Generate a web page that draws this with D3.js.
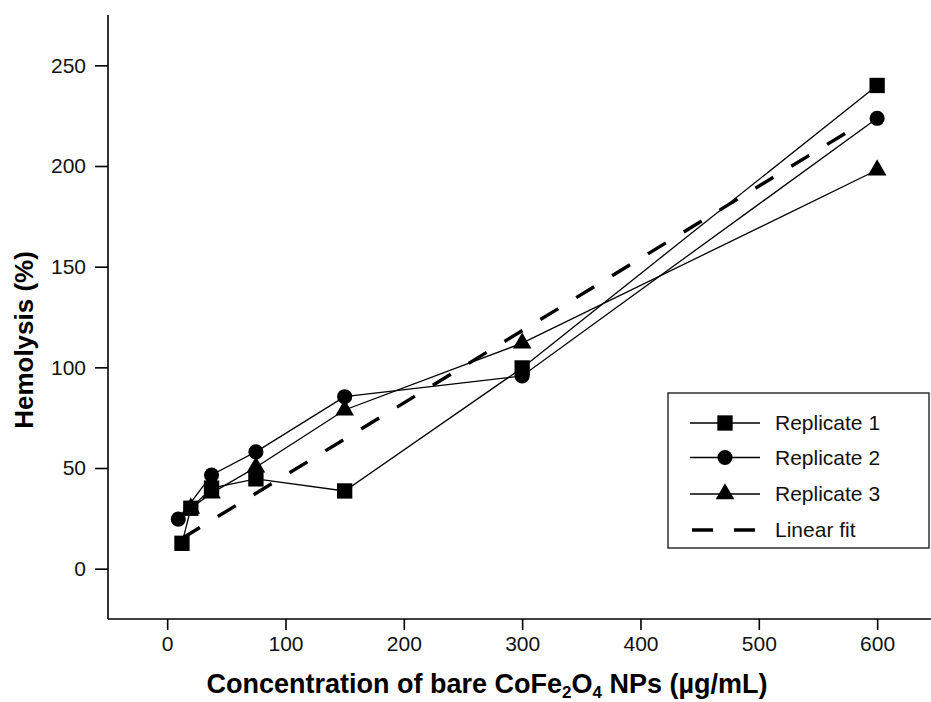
<!DOCTYPE html>
<html><head><meta charset="utf-8">
<script src="https://cdn.jsdelivr.net/npm/d3@7"></script>
<style>body{margin:0;background:#fff} svg{display:block}</style>
</head><body>
<svg id="chart" width="931" height="702"></svg>
<script>
// ---- data ----
const rep1X = [12.5, 20, 37.5, 75, 150, 300, 600];
const rep1Y = [12.6, 30, 40, 44.6, 38.6, 99.7, 240];
const rep2X = [9.4, 37.5, 75, 150, 300, 600];
const rep2Y = [24.6, 46.5, 58, 85.4, 95.7, 223.7];
const rep3X = [20, 37.5, 75, 150, 300, 600];
const rep3Y = [30, 37.5, 50.4, 78.8, 112, 198];
const fitX = [12.5, 578];
const fitY = [15, 218];
const xTicks = [0, 100, 200, 300, 400, 500, 600];
const xMinor = [-50, 50, 150, 250, 350, 450, 550];
const yTicks = [0, 50, 100, 150, 200, 250];
const yMinor = [-25, 25, 75, 125, 175, 225, 275];
const legendLabels = ["Replicate 1", "Replicate 2", "Replicate 3", "Linear fit"];
const yTitle = "Hemolysis (%)";

// ---- layout ----
const svg = d3.select("#chart");
const FONT = "'Liberation Sans', Arial, Helvetica, sans-serif";
const x = d3.scaleLinear().domain([-50, 650]).range([108, 936.3]);
const y = d3.scaleLinear().domain([-25, 275]).range([619, 15]);

// axes
const gx = svg.append("g").attr("transform", `translate(0,${y(-25)})`);
gx.call(d3.axisBottom(x).tickValues(xMinor).tickSize(7).tickFormat(""));
gx.call(d3.axisBottom(x).tickValues(xTicks).tickSize(11).tickPadding(6).tickFormat(d3.format("d")));
gx.select(".domain").remove();
gx.append("line").attr("x1", 108).attr("x2", 931).attr("y1", 0).attr("y2", 0)
  .attr("stroke", "#000").attr("stroke-width", 1.6);

const gy = svg.append("g").attr("transform", `translate(${x(-50)},0)`);
gy.call(d3.axisLeft(y).tickValues(yMinor).tickSize(7).tickFormat(""));
gy.call(d3.axisLeft(y).tickValues(yTicks).tickSize(13).tickPadding(9).tickFormat(d3.format("d")));
gy.select(".domain").remove();
gy.append("line").attr("x1", 0).attr("x2", 0).attr("y1", y(275)).attr("y2", y(-25))
  .attr("stroke", "#000").attr("stroke-width", 1.6);

svg.selectAll(".tick line").attr("stroke", "#000").attr("stroke-width", 1.6);
svg.selectAll(".tick text").attr("font-family", FONT).attr("font-size", 21).attr("fill", "#111");
svg.selectAll("path.domain").remove();

// fit line
svg.append("line")
  .attr("x1", x(fitX[0])).attr("y1", y(fitY[0]))
  .attr("x2", x(fitX[1])).attr("y2", y(fitY[1]))
  .attr("stroke", "#000").attr("stroke-width", 3.4).attr("stroke-dasharray", "21,21");

const series = [
  {xs: rep1X, ys: rep1Y, sym: d3.symbolSquare, size: 235},
  {xs: rep2X, ys: rep2Y, sym: d3.symbolCircle, size: 180},
  {xs: rep3X, ys: rep3Y, sym: d3.symbolTriangle, size: 150}
];
const line = d3.line().x(d => x(d[0])).y(d => y(d[1]));
series.forEach(s => {
  const pts = s.xs.map((v, i) => [v, s.ys[i]]);
  svg.append("path").attr("d", line(pts)).attr("fill", "none")
    .attr("stroke", "#000").attr("stroke-width", 1.3);
});
series.forEach(s => {
  const pts = s.xs.map((v, i) => [v, s.ys[i]]);
  svg.append("g").selectAll("path").data(pts).join("path")
    .attr("d", d3.symbol().type(s.sym).size(s.size))
    .attr("transform", d => `translate(${x(d[0])},${y(d[1])})`)
    .attr("fill", "#000");
});

// legend
const lg = svg.append("g");
lg.append("rect").attr("x", 668).attr("y", 393).attr("width", 261).attr("height", 155)
  .attr("fill", "#fff").attr("stroke", "#222").attr("stroke-width", 1.4);
const rowsY = [423, 457.5, 494, 530];
legendLabels.forEach((lab, i) => {
  const ry = rowsY[i];
  if (i < 3) {
    lg.append("line").attr("x1", 690).attr("x2", 760).attr("y1", ry).attr("y2", ry)
      .attr("stroke", "#000").attr("stroke-width", 1.3);
    lg.append("path").attr("d", d3.symbol().type(series[i].sym).size(series[i].size))
      .attr("transform", `translate(725,${ry})`).attr("fill", "#000");
  } else {
    lg.append("line").attr("x1", 692).attr("x2", 757).attr("y1", ry).attr("y2", ry)
      .attr("stroke", "#000").attr("stroke-width", 3.4).attr("stroke-dasharray", "21,21");
  }
  lg.append("text").attr("x", 775).attr("y", ry).attr("dy", "0.35em")
    .attr("font-family", FONT).attr("font-size", 21).attr("fill", "#111").text(lab);
});

// axis titles
const xt = svg.append("text").attr("x", 487).attr("y", 693).attr("text-anchor", "middle")
  .attr("font-family", FONT).attr("font-size", 27).attr("font-weight", "bold").attr("fill", "#000");
xt.append("tspan").text("Concentration of bare CoFe");
xt.append("tspan").attr("font-size", 17).attr("dy", 5).text("2");
xt.append("tspan").attr("dy", -5).text("O");
xt.append("tspan").attr("font-size", 17).attr("dy", 5).text("4");
xt.append("tspan").attr("dy", -5).text(" NPs (µg/mL)");

svg.append("text").attr("transform", "translate(33,340) rotate(-90)")
  .attr("text-anchor", "middle").attr("font-family", FONT).attr("font-size", 26)
  .attr("font-weight", "bold").attr("fill", "#000").text(yTitle);
</script>
</body></html>
